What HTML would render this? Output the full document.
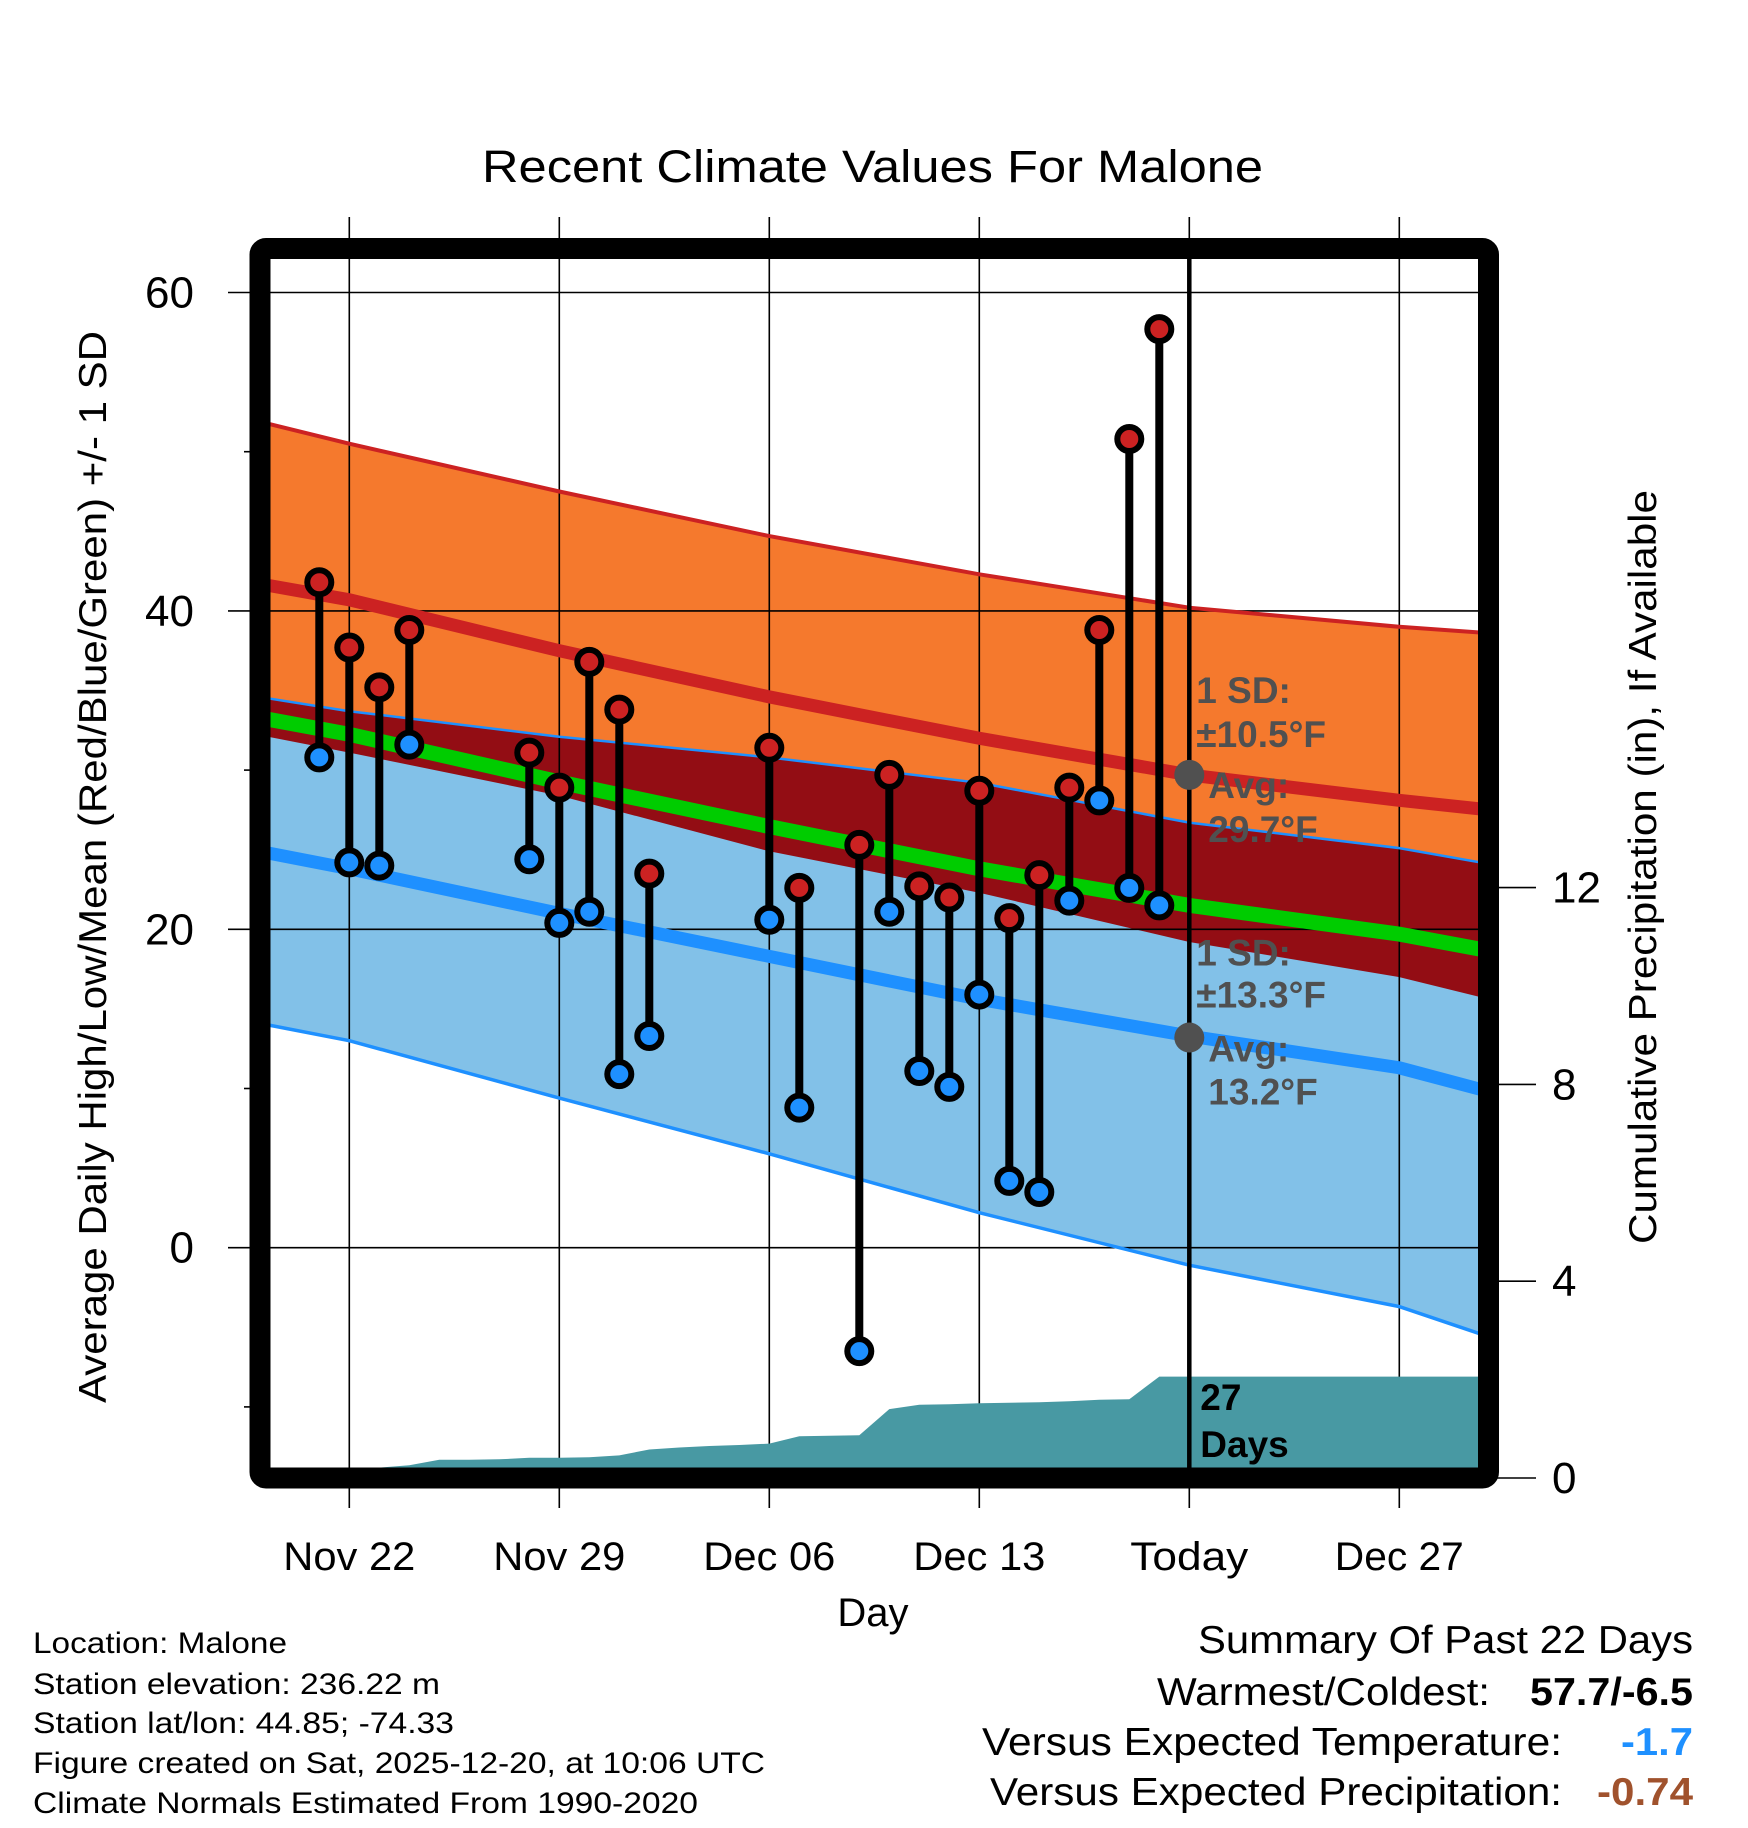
<!DOCTYPE html>
<html><head><meta charset="utf-8"><style>
html,body{margin:0;padding:0;background:#fff;}
svg{display:block;font-family:"Liberation Sans",Arial,sans-serif;}
</style></head><body>
<svg id="chart" width="1748" height="1828" viewBox="0 0 1748 1828" xmlns="http://www.w3.org/2000/svg">
<defs><clipPath id="plotclip"><rect x="270" y="259" width="1208" height="1209"/></clipPath></defs>
<rect x="0" y="0" width="1748" height="1828" fill="#fff"/>
<text x="482" y="182" font-size="45" textLength="781" lengthAdjust="spacingAndGlyphs">Recent Climate Values For Malone</text>
<g id="bands" clip-path="url(#plotclip)"></g>
<g id="grid"></g>
<g id="precip" clip-path="url(#plotclip)"></g>
<g id="lines" clip-path="url(#plotclip)"></g>
<g id="obs"></g>
<g id="annot"></g>
<rect x="260" y="248.5" width="1228.5" height="1229.5" rx="6" fill="none" stroke="#000" stroke-width="21"/>
<g id="axes"></g>
<text transform="translate(106,867) rotate(-90)" font-size="39" text-anchor="middle" textLength="1072" lengthAdjust="spacingAndGlyphs">Average Daily High/Low/Mean (Red/Blue/Green) +/- 1 SD</text>
<text transform="translate(1656,867) rotate(-90)" font-size="39" text-anchor="middle" textLength="754" lengthAdjust="spacingAndGlyphs">Cumulative Precipitation (in), If Available</text>
<text x="873" y="1626" font-size="40" text-anchor="middle">Day</text>
<g font-size="30">
<text x="33" y="1653" textLength="254" lengthAdjust="spacingAndGlyphs">Location: Malone</text>
<text x="33" y="1694" textLength="407" lengthAdjust="spacingAndGlyphs">Station elevation: 236.22 m</text>
<text x="33" y="1733" textLength="421" lengthAdjust="spacingAndGlyphs">Station lat/lon: 44.85; -74.33</text>
<text x="33" y="1773" textLength="732" lengthAdjust="spacingAndGlyphs">Figure created on Sat, 2025-12-20, at 10:06 UTC</text>
<text x="33" y="1813" textLength="665" lengthAdjust="spacingAndGlyphs">Climate Normals Estimated From 1990-2020</text>
</g>
<g font-size="39">
<text x="1198" y="1653" textLength="495" lengthAdjust="spacingAndGlyphs">Summary Of Past 22 Days</text>
<text x="1157" y="1705" textLength="333" lengthAdjust="spacingAndGlyphs">Warmest/Coldest:</text>
<text x="1530" y="1705" font-weight="bold" textLength="163" lengthAdjust="spacingAndGlyphs">57.7/-6.5</text>
<text x="982" y="1755" textLength="580" lengthAdjust="spacingAndGlyphs">Versus Expected Temperature:</text>
<text x="1621" y="1755" font-weight="bold" fill="#1e90ff" textLength="72" lengthAdjust="spacingAndGlyphs">-1.7</text>
<text x="990" y="1805" textLength="572" lengthAdjust="spacingAndGlyphs">Versus Expected Precipitation:</text>
<text x="1597" y="1805" font-weight="bold" fill="#a0522d" textLength="96" lengthAdjust="spacingAndGlyphs">-0.74</text>
</g>
</svg>
<script>
// ---- data (day index: 0 = Nov 22) ----
const normDays   = [-3, 0, 7, 14, 21, 28, 35, 38];
const highUpper  = [51.9, 50.5, 47.5, 44.7, 42.3, 40.2, 39.0, 38.6];
const highAvg    = [41.7, 40.7, 37.5, 34.6, 32.0, 29.7, 28.1, 27.5];
const highLower  = [32.2, 31.1, 28.4, 24.9, 22.3, 19.2, 17.0, 15.6];
const lowUpper   = [34.6, 33.7, 32.1, 30.8, 29.2, 26.7, 25.1, 24.1];
const lowAvg     = [24.9, 23.8, 21.0, 18.3, 15.6, 13.3, 11.3, 9.8];
const lowLower   = [14.1, 13.0, 9.4, 5.9, 2.2, -1.1, -3.7, -5.6];

const obsDays  = [-1, 0, 1, 2, 6, 7, 8, 9, 10, 14, 15, 17, 18, 19, 20, 21, 22, 23, 24, 25, 26, 27];
const obsHigh  = [41.8, 37.7, 35.2, 38.8, 31.1, 28.9, 36.8, 33.8, 23.5, 31.4, 22.6, 25.3, 29.7, 22.7, 22.0, 28.7, 20.7, 23.4, 28.9, 38.8, 50.8, 57.7];
const obsLow   = [30.8, 24.2, 24.0, 31.6, 24.4, 20.4, 21.1, 10.9, 13.3, 20.6, 8.8, -6.5, 21.1, 11.1, 10.1, 15.9, 4.2, 3.5, 21.8, 28.1, 22.6, 21.5];

const precipDays = [-3,-2,-1,0,1,2,3,4,5,6,7,8,9,10,11,12,13,14,15,16,17,18,19,20,21,22,23,24,25,26,27,38];
const precipCum  = [0,0,0,0.1,0.21,0.26,0.37,0.37,0.38,0.41,0.41,0.42,0.46,0.58,0.62,0.65,0.67,0.70,0.85,0.86,0.87,1.40,1.49,1.50,1.52,1.53,1.54,1.56,1.59,1.60,2.06,2.06];

const xTickDays   = [0, 7, 14, 21, 28, 35];
const xTickLabels = ["Nov 22","Nov 29","Dec 06","Dec 13","Today","Dec 27"];
const xTickWidths = [132, 132, 132, 132, 118, 129];
const yTicks      = [0, 20, 40, 60];
const yMinor      = [-10, 10, 30, 50];
const y2Ticks     = [0, 4, 8, 12];
const todayDay = 28;
const todayHighAvg = 29.7, todayHighSD = 10.5, todayLowAvg = 13.2, todayLowSD = 13.3;
const precipDaysLabel = "27";

// ---- axis functions ----
const X = d => 349.3 + 30 * d;
const Y = v => 1247.7 - 15.92 * v;
const Y2 = p => 1478 - 49.2 * p;
const NS = "http://www.w3.org/2000/svg";
function mk(tag, attrs, parent){const e=document.createElementNS(NS,tag);for(const k in attrs)e.setAttribute(k,attrs[k]);parent.appendChild(e);return e;}
const G = id => document.getElementById(id);

function pts(days, vals){return days.map((d,i)=>X(d).toFixed(1)+","+Y(vals[i]).toFixed(1));}
function band(upper, lower){return pts(normDays,upper).concat(pts(normDays,lower).reverse()).join(" ");}

let e;
e = mk("polygon",{points:band(highUpper,highLower),fill:"#f5792d"},G("bands"));


e = mk("polygon",{points:band(lowUpper,lowLower),fill:"#82c1e8"},G("bands"));


e = mk("polygon",{points:band(lowUpper,highLower),fill:"#930d14"},G("bands"));



yTicks.forEach(v=>{
  e = mk("line",{x1:228,x2:1478,y1:Y(v),y2:Y(v),stroke:"#000","stroke-width":1.6},G("grid"));
  
  
});
yMinor.forEach(v=>{
  e = mk("line",{x1:244,x2:260,y1:Y(v),y2:Y(v),stroke:"#000","stroke-width":1.6},G("grid"));
  
  
});
xTickDays.forEach(d=>{
  e = mk("line",{x1:X(d),x2:X(d),y1:217,y2:1508,stroke:"#000","stroke-width":1.6},G("grid"));
  
  
});
y2Ticks.forEach(p=>{
  e = mk("line",{x1:1488,x2:1536,y1:Y2(p),y2:Y2(p),stroke:"#000","stroke-width":1.6},G("grid"));
  
  
});

const pp = precipDays.map((d,i)=>X(d).toFixed(1)+","+Y2(precipCum[i]).toFixed(1));
pp.push(X(precipDays[precipDays.length-1]).toFixed(1)+","+Y2(0)); pp.push(X(precipDays[0]).toFixed(1)+","+Y2(0));
e = mk("polygon",{points:pp.join(" "),fill:"#4899a3"},G("precip"));



const meanVals = highAvg.map((h,i)=>(h+lowAvg[i])/2);
function line(vals,color,w,name){
  const l = mk("polyline",{points:pts(normDays,vals).join(" "),fill:"none",stroke:color,"stroke-width":w},G("lines"));
  
  
}
line(highUpper,"#cc2222",4,"high-upper-line");
line(lowUpper,"#1e90ff",2.5,"low-upper-line");
line(lowLower,"#1e90ff",3.5,"low-lower-line");
line(meanVals,"#00cc00",15,"mean-line");
line(highAvg,"#cc2222",13,"high-avg-line");
line(lowAvg,"#1e90ff",13,"low-avg-line");

e = mk("line",{x1:X(todayDay),x2:X(todayDay),y1:259,y2:1468,stroke:"#000","stroke-width":4.5},G("annot"));



obsDays.forEach((d,i)=>{
  const x=X(d);
  const s = mk("line",{x1:x,x2:x,y1:Y(obsHigh[i]),y2:Y(obsLow[i]),stroke:"#000","stroke-width":8},G("obs"));
  
  
  const h = mk("circle",{cx:x,cy:Y(obsHigh[i]),r:12,fill:"#cc2222",stroke:"#000","stroke-width":6},G("obs"));
  
  
  const lo = mk("circle",{cx:x,cy:Y(obsLow[i]),r:12,fill:"#1e90ff",stroke:"#000","stroke-width":6},G("obs"));
  
  
});

const tx = X(todayDay);
e = mk("circle",{cx:tx,cy:Y(todayHighAvg),r:15,fill:"#505050"},G("annot"));


e = mk("circle",{cx:tx,cy:Y(todayLowAvg),r:15,fill:"#505050"},G("annot"));


function at(x,y,str,name,color,size){
  const t = mk("text",{x:x,y:y,"font-size":size||37,"font-weight":"bold",fill:color||"#505050"},G("annot"));
  t.textContent=str;
  
  
  return t;
}
const hy=Y(todayHighAvg), ly=Y(todayLowAvg);
at(tx+7,hy-72,"1 SD:","high-sd-label");
at(tx+7,hy-28,"\u00b1"+todayHighSD.toFixed(1)+"\u00b0F","high-sd-value");
at(tx+19,hy+23,"Avg:","high-avg-label");
at(tx+19,hy+67,todayHighAvg.toFixed(1)+"\u00b0F","high-avg-value");
at(tx+7,ly-72,"1 SD:","low-sd-label");
at(tx+7,ly-30,"\u00b1"+todayLowSD.toFixed(1)+"\u00b0F","low-sd-value");
at(tx+19,ly+24,"Avg:","low-avg-label");
at(tx+19,ly+67,todayLowAvg.toFixed(1)+"\u00b0F","low-avg-value");
at(tx+11,1410,precipDaysLabel,"precip-days-count","#000",37);
at(tx+11,1457,"Days","precip-days-label","#000",37);

yTicks.forEach(v=>{
  const t = mk("text",{x:194,y:Y(v)+15,"font-size":44,"text-anchor":"end"},G("axes"));
  t.textContent=String(v);
  
  
});
y2Ticks.forEach(p=>{
  const t = mk("text",{x:1552,y:Y2(p)+15,"font-size":44},G("axes"));
  t.textContent=String(p);
  
  
});
xTickDays.forEach((d,i)=>{
  const t = mk("text",{x:X(d)-xTickWidths[i]/2,y:1570,"font-size":40,textLength:xTickWidths[i],lengthAdjust:"spacingAndGlyphs"},G("axes"));
  t.textContent=xTickLabels[i];
  
  
});
</script>
</body></html>
